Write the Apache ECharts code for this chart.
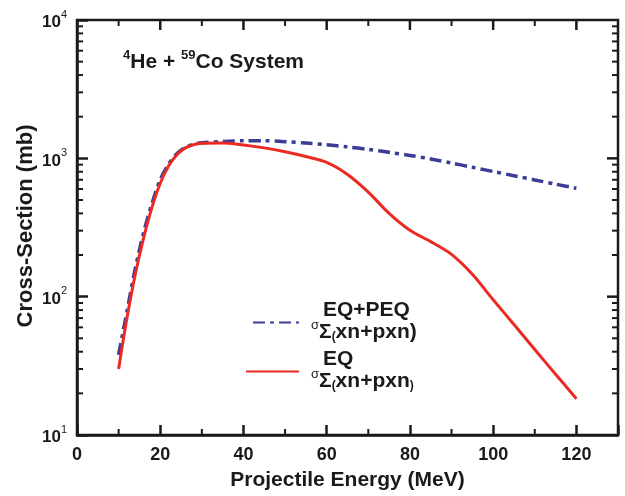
<!DOCTYPE html>
<html>
<head>
<meta charset="utf-8">
<script src="https://cdn.jsdelivr.net/npm/echarts@6/dist/echarts.min.js"></script>
<style>
  html, body { margin: 0; padding: 0; background: #fff; }
  #chart { width: 625px; height: 496px; }
</style>
</head>
<body>
<div id="chart"></div>
<script>
  // projectile energy (MeV)
  var energy = [10, 12, 14, 16, 18, 20, 22, 24, 26, 28, 30, 35, 40, 45, 50, 55, 60, 65, 70, 75, 80, 85, 90, 95, 100, 105, 110, 115, 120];
  // EQ+PEQ cross-section (mb)
  var eqPeq = [38, 78, 160, 290, 470, 700, 910, 1080, 1200, 1265, 1295, 1325, 1340, 1340, 1320, 1290, 1255, 1210, 1160, 1105, 1050, 990, 925, 862, 803, 749, 698, 651, 607];
  // EQ cross-section (mb)
  var eq = [30, 70, 145, 265, 440, 660, 880, 1060, 1190, 1255, 1285, 1293, 1250, 1190, 1115, 1030, 935, 765, 570, 400, 302, 250, 202, 145, 95, 63, 41.5, 27.5, 18.3];

  var xMajorTicks = [20, 40, 60, 80, 100, 120];
  var xMinorTicks = [10, 30, 50, 70, 90, 110];
  var yMajorTicks = [100, 1000];
  var yMinorTicks = [20, 30, 40, 50, 60, 70, 80, 90, 200, 300, 400, 500, 600, 700, 800, 900, 2000, 3000, 4000, 5000, 6000, 7000, 8000, 9000];

  var X_MIN = 0, X_MAX = 130, Y_MIN = 10, Y_MAX = 10000;

  var FONT = '"Liberation Sans", Arial, sans-serif';
  var INK = '#1a1a1a';

  var chart = echarts.init(document.getElementById('chart'));

  function pair(xs, ys) {
    return xs.map(function (x, i) { return [x, ys[i]]; });
  }

  function tickLine(x1, y1, x2, y2, w) {
    return { type: 'line', shape: { x1: x1, y1: y1, x2: x2, y2: y2 }, style: { stroke: INK, lineWidth: w } };
  }

  // inward ticks drawn through the chart's own scales
  // bottom/top for x values, left/right for y values
  function tickSeries(name, values, isX, len, width, sides) {
    return {
      name: name, type: 'custom', silent: true, z: 10, clip: false,
      data: values.map(function (v) { return isX ? [v, Y_MIN] : [X_MIN, v]; }),
      renderItem: function (params, api) {
        var kids = [];
        if (isX) {
          var vx = api.value(0);
          var b = api.coord([vx, Y_MIN]);
          var t = api.coord([vx, Y_MAX]);
          if (sides.indexOf('bottom') >= 0) kids.push(tickLine(b[0], b[1], b[0], b[1] - len, width));
          if (sides.indexOf('top') >= 0) kids.push(tickLine(t[0], t[1], t[0], t[1] + len, width));
        } else {
          var vy = api.value(1);
          var l = api.coord([X_MIN, vy]);
          var r = api.coord([X_MAX, vy]);
          if (sides.indexOf('left') >= 0) kids.push(tickLine(l[0], l[1], l[0] + len, l[1], width));
          if (sides.indexOf('right') >= 0) kids.push(tickLine(r[0], r[1], r[0] - len, r[1], width));
        }
        return { type: 'group', children: kids };
      }
    };
  }

  var legendRich = {
    t: { fontSize: 21, fontWeight: 'bold', fontFamily: FONT, color: INK, lineHeight: 17, padding: [0, 0, 0, 19] },
    s: { fontSize: 13, fontFamily: FONT, color: INK, lineHeight: 22, verticalAlign: 'top', padding: [0, 0, 0, 7] },
    S: { fontSize: 21, fontWeight: 'bold', fontFamily: FONT, color: INK, lineHeight: 24, verticalAlign: 'bottom' },
    p: { fontSize: 12, fontWeight: 'bold', fontFamily: FONT, color: INK, lineHeight: 24, verticalAlign: 'bottom' }
  };

  var legendBase = {
    orient: 'vertical', padding: 0, itemHeight: 14,
    itemStyle: { opacity: 0 },
    textStyle: { rich: legendRich }
  };

  var option = {
    backgroundColor: '#fff',
    animation: false,
    grid: {
      left: 77, top: 20, right: 7, bottom: 61,
      show: true, borderColor: INK, borderWidth: 2.5,
      outerBoundsMode: 'none', containLabel: false
    },
    title: {
      text: '{sup|4}{b|He + }{sup|59}{b|Co System}',
      left: 118, top: 44,
      textStyle: {
        rich: {
          b: { fontSize: 21, fontWeight: 'bold', fontFamily: FONT, color: INK, lineHeight: 24, verticalAlign: 'bottom' },
          sup: { fontSize: 13, fontWeight: 'bold', fontFamily: FONT, color: INK, lineHeight: 13, verticalAlign: 'top' }
        }
      }
    },
    // y axis title, kept as a rotated text so it sits close to the tick labels
    graphic: [{
      type: 'text', x: 26, y: 226, rotation: Math.PI / 2, silent: true,
      style: {
        text: 'Cross-Section (mb)', fill: INK,
        font: 'bold 22px "Liberation Sans", Arial, sans-serif',
        align: 'center', verticalAlign: 'middle'
      }
    }],
    legend: [
      echarts.util.merge({
        data: ['EQ+PEQ'], left: 252, top: 300, itemWidth: 46,
        formatter: function () {
          return '{t|EQ+PEQ}\n{s|σ}{S|Σ}{p|(}{S|xn+pxn)}';
        }
      }, legendBase, true),
      echarts.util.merge({
        data: ['EQ'], left: 245, top: 349, itemWidth: 53,
        formatter: function () {
          return '{t|EQ}\n{s|σ}{S|Σ}{p|(}{S|xn+pxn}{p|)}';
        }
      }, legendBase, true)
    ],
    xAxis: {
      type: 'value', min: X_MIN, max: X_MAX, interval: 20, position: 'bottom',
      name: 'Projectile Energy (MeV)', nameLocation: 'middle', nameGap: 35,
      nameTextStyle: { fontSize: 21, fontWeight: 'bold', fontFamily: FONT, color: INK },
      axisLine: { show: true, lineStyle: { color: INK, width: 2.5 } },
      axisTick: { show: true, inside: true, length: 10, lineStyle: { color: INK, width: 2.5 } },
      splitLine: { show: false },
      axisLabel: {
        margin: 11, fontSize: 18, fontWeight: 'bold', fontFamily: FONT, color: INK,
        formatter: function (v) { return v > 120 ? '' : String(v); }
      }
    },
    yAxis: {
      type: 'log', logBase: 10, min: Y_MIN, max: Y_MAX, position: 'left',
      axisLine: { show: true, lineStyle: { color: INK, width: 2.5 } },
      axisTick: { show: true, inside: true, length: 11, lineStyle: { color: INK, width: 2.5 } },
      splitLine: { show: false },
      minorTick: { show: false },
      axisLabel: {
        margin: 10,
        formatter: function (v) {
          return '{b|10}{e|' + Math.round(Math.log10(v)) + '}';
        },
        rich: {
          b: { fontSize: 17, fontWeight: 'bold', fontFamily: FONT, color: INK, lineHeight: 22, verticalAlign: 'bottom' },
          e: { fontSize: 11, fontFamily: FONT, color: INK, lineHeight: 14, verticalAlign: 'top' }
        }
      }
    },
    series: [
      {
        name: 'EQ+PEQ', type: 'line', data: pair(energy, eqPeq),
        smooth: 0.3, symbol: 'none', z: 3,
        lineStyle: { color: '#3b3c96', width: 3.5, type: [12, 5, 4, 5] },
        itemStyle: { color: '#3b3c96' }
      },
      {
        name: 'EQ', type: 'line', data: pair(energy, eq),
        smooth: 0.3, symbol: 'none', z: 4,
        lineStyle: { color: '#ec2a24', width: 3 },
        itemStyle: { color: '#ec2a24' }
      },
      tickSeries('xMajorTop', xMajorTicks, true, 10, 2.5, ['top']),
      tickSeries('xMinor', xMinorTicks, true, 6, 2, ['bottom', 'top']),
      tickSeries('yMajorRight', yMajorTicks, false, 11, 2.5, ['right']),
      tickSeries('yMinor', yMinorTicks, false, 6, 2, ['left', 'right'])
    ]
  };

  chart.setOption(option);
</script>
</body>
</html>
